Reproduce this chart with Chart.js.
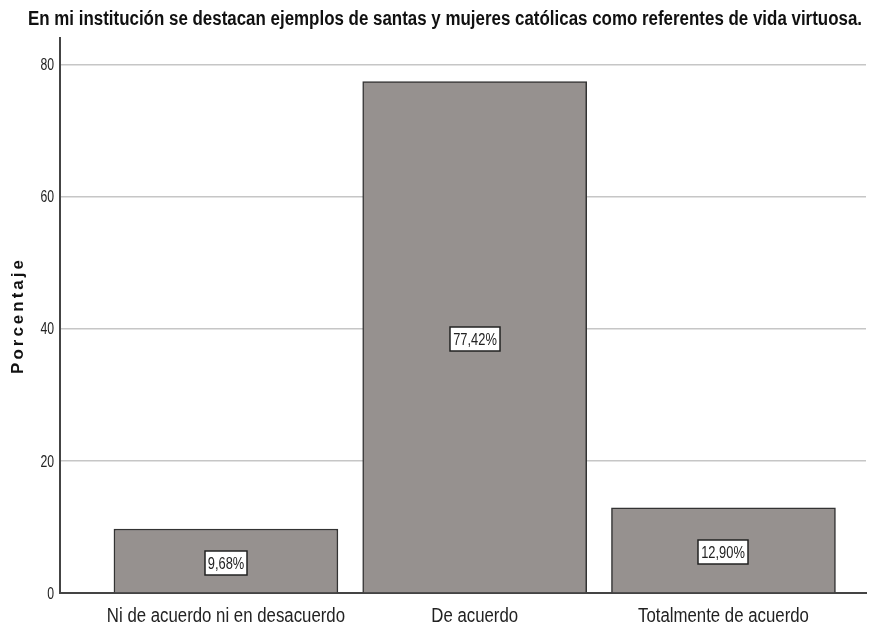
<!DOCTYPE html>
<html>
<head>
<meta charset="utf-8">
<script src="https://cdn.jsdelivr.net/npm/chart.js@4"></script>
<style>
  html, body { margin: 0; padding: 0; background: #fff; }
  #wrap { width: 880px; height: 630px; }
</style>
</head>
<body>
<div id="wrap"><canvas id="chart" width="880" height="630"></canvas></div>
<script>
const categories = ['Ni de acuerdo ni en desacuerdo', 'De acuerdo', 'Totalmente de acuerdo'];
const percentages = [9.68, 77.42, 12.90];
const valueLabels = ['9,68%', '77,42%', '12,90%'];
const yTicks = [0, 20, 40, 60, 80];

const titleText = 'En mi institución se destacan ejemplos de santas y mujeres católicas como referentes de vida virtuosa.';
const arial = '"Liberation Sans", Arial, sans-serif';

// squeezes Liberation Sans sideways so it looks like Arial Narrow
function narrowText(ctx, text, x, y, squeeze) {
    ctx.save();
    ctx.translate(x, y);
    ctx.scale(squeeze, 1);
    ctx.fillText(text, 0, 0);
    ctx.restore();
}

const labelPlugin = {
    id: 'boxLabels',
    afterDatasetsDraw(chart) {
        const ctx = chart.ctx;
        const meta = chart.getDatasetMeta(0);
        const xs = chart.scales.x, ys = chart.scales.y;
        const squeeze = 0.78;
        ctx.save();
        ctx.font = '16.5px ' + arial;
        ctx.textAlign = 'center';
        ctx.textBaseline = 'middle';
        meta.data.forEach((bar, i) => {
            const cx = Math.round(bar.x);
            const cy = Math.round((bar.y + bar.base) / 2 + 2);
            const w = Math.round(ctx.measureText(valueLabels[i]).width * squeeze + 6);
            const h = 24;
            ctx.fillStyle = '#fff';
            ctx.fillRect(cx - w / 2, cy - h / 2, w, h);
            ctx.strokeStyle = '#222';
            ctx.lineWidth = 1.5;
            ctx.strokeRect(cx - w / 2, cy - h / 2, w, h);
            ctx.fillStyle = '#222';
            narrowText(ctx, valueLabels[i], cx, cy + 1, squeeze);
        });
        ctx.restore();

        // tick labels placed by the scales
        ctx.save();
        ctx.fillStyle = '#222';
        ctx.font = '20px ' + arial;
        ctx.textAlign = 'center';
        ctx.textBaseline = 'alphabetic';
        categories.forEach((c, i) => narrowText(ctx, c, xs.getPixelForValue(i), xs.top + 29, 0.84));
        ctx.font = '17px ' + arial;
        ctx.textAlign = 'right';
        ctx.textBaseline = 'middle';
        yTicks.forEach(v => narrowText(ctx, String(v), ys.right - 6, ys.getPixelForValue(v) + 1, 0.72));
        ctx.restore();

        // y axis title, letter-spaced like the original
        const area = chart.chartArea;
        ctx.save();
        ctx.translate(18, (area.top + area.bottom) / 2);
        ctx.rotate(-Math.PI / 2);
        ctx.font = 'bold 17px ' + arial;
        ctx.letterSpacing = '3px';
        ctx.textAlign = 'center';
        ctx.textBaseline = 'middle';
        ctx.fillStyle = '#111';
        ctx.fillText('Porcentaje', 0, 0);
        ctx.restore();

        // chart title
        ctx.save();
        ctx.font = 'bold 19.5px ' + arial;
        ctx.textAlign = 'center';
        ctx.textBaseline = 'alphabetic';
        ctx.fillStyle = '#111';
        const tw = ctx.measureText(titleText).width;
        narrowText(ctx, titleText, 445, 25, 834 / tw);
        ctx.restore();
    }
};

const ctx = document.getElementById('chart').getContext('2d');
const myChart = new Chart(ctx, {
    type: 'bar',
    data: {
        datasets: [{
            data: percentages.map((v, i) => ({ x: i, y: v })),
            backgroundColor: '#96918f',
            borderColor: '#333',
            borderWidth: 1.5,
            barThickness: 224
        }]
    },
    options: {
        responsive: false,
        animation: false,
        layout: { padding: { left: 0, right: 14, top: 38, bottom: 0 } },
        plugins: {
            legend: { display: false },
            tooltip: { enabled: false },
            title: { display: false }
        },
        scales: {
            x: {
                type: 'linear',
                offset: false,
                bounds: 'data',
                min: -0.667,
                max: 2.573,
                afterBuildTicks: s => { s.ticks = categories.map((c, i) => ({ value: i })); },
                afterFit: s => { s.height = 37; },
                grid: { display: false, drawTicks: false },
                border: { color: '#444', width: 2 },
                ticks: { display: false }
            },
            y: {
                min: 0,
                max: 84,
                afterBuildTicks: s => { s.ticks = yTicks.map(v => ({ value: v })); },
                afterFit: s => { s.width = 60; },
                grid: { color: '#c6c6c6', lineWidth: 1.5, drawTicks: false },
                border: { color: '#444', width: 2 },
                ticks: { display: false }
            }
        }
    },
    plugins: [labelPlugin]
});
</script>
</body>
</html>
